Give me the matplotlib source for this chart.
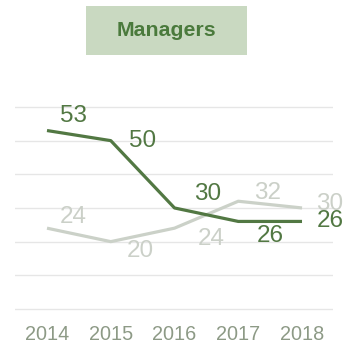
import matplotlib.pyplot as plt
from matplotlib.patches import Rectangle

plt.rcParams['font.family'] = ['Liberation Sans', 'DejaVu Sans']

years = [2014, 2015, 2016, 2017, 2018]
managers = [53, 50, 30, 26, 26]
others = [24, 20, 24, 32, 30]

# label offsets in pixels (dx right, dy up) for each point
green_offsets = [(26, 15), (32, 0), (33, 14), (32, -15), (28, 0)]
gray_offsets = [(26, 11), (30, -9), (37, -11), (29, 8), (28, 4)]

GREEN = '#527843'
GRAY_LINE = '#cbd1c8'
GRAY_TEXT = '#cbd0c8'

fig = plt.figure(figsize=(3.51, 3.49), dpi=100)
ax = fig.add_axes([15 / 351, 0.0954, 318 / 351, 0.6174])

ax.set_xlim(2013.498, 2018.486)
ax.set_ylim(-2, 62)
for y in range(0, 61, 10):
    ax.axhline(y, color='#e6e6e6', lw=1.0, zorder=0)

ax.plot(years, others, color=GRAY_LINE, lw=2.3, zorder=2, solid_capstyle='butt')
ax.plot(years, managers, color=GREEN, lw=2.3, zorder=3, solid_capstyle='butt')

px = 72 / fig.dpi
for x, v, (dx, dy) in zip(years, others, gray_offsets):
    ax.annotate(str(v), (x, v), xytext=(dx * px, dy * px), textcoords='offset points',
                ha='center', va='center', fontsize=17.5, color=GRAY_TEXT, zorder=4)
for x, v, (dx, dy) in zip(years, managers, green_offsets):
    ax.annotate(str(v), (x, v), xytext=(dx * px, dy * px), textcoords='offset points',
                ha='center', va='center', fontsize=17.5, color=GREEN, zorder=5)

ax.set_xticks(years)
ax.set_xticklabels([str(y) for y in years], fontsize=14.3, color='#8d9a86')
ax.tick_params(axis='x', length=0, pad=6.5)
ax.set_yticks([])
for s in ax.spines.values():
    s.set_visible(False)

# title box
fig.patches.append(Rectangle((86 / 351, 1 - 55 / 349), 161 / 351, 49 / 349,
                             transform=fig.transFigure, facecolor='#c9d9c1',
                             edgecolor='none', zorder=0))
fig.text(166 / 351, 1 - 31 / 349, 'Managers', ha='center', va='center',
         fontsize=15.3, fontweight='bold', color='#4a7a3c')

fig.savefig('out.png', dpi=100)
